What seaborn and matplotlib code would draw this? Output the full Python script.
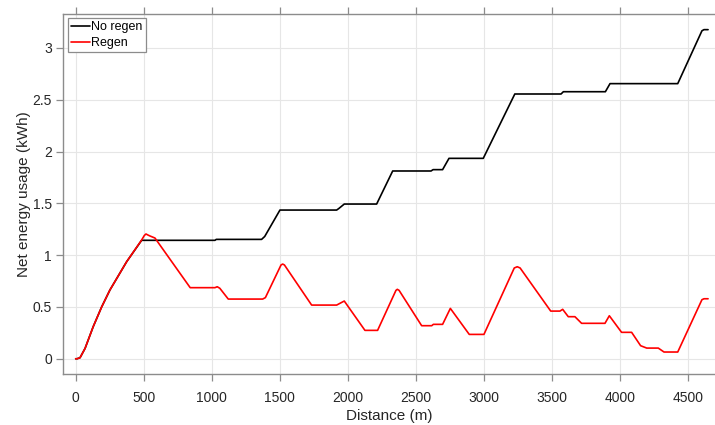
import numpy as np
import pandas as pd
import matplotlib
matplotlib.use("Agg")
import matplotlib.pyplot as plt
from matplotlib.lines import Line2D
import seaborn as sns

# ---- data ----
regen_x = [0, 10, 32, 69, 129, 191, 252, 375, 485, 505, 517, 530, 546, 583, 842, 1024, 1041,
           1060, 1122, 1375, 1395, 1510, 1522, 1535, 1735, 1919, 1975, 2127, 2220, 2355,
           2365, 2378, 2544, 2618, 2630, 2698, 2755, 2894, 3002, 3225, 3247, 3268, 3493,
           3561, 3581, 3622, 3671, 3720, 3892, 3924, 4014, 4088, 4154, 4199, 4284, 4326,
           4427, 4605, 4620, 4650]
regen_y = [0.0, 0.0, 0.01, 0.10, 0.31, 0.50, 0.664, 0.937, 1.146, 1.19, 1.204, 1.195, 1.185,
           1.165, 0.686, 0.686, 0.695, 0.68, 0.576, 0.576, 0.59, 0.905, 0.914, 0.905, 0.518,
           0.518, 0.557, 0.274, 0.274, 0.66, 0.67, 0.66, 0.319, 0.319, 0.332, 0.332, 0.486,
           0.235, 0.235, 0.876, 0.888, 0.876, 0.46, 0.46, 0.477, 0.406, 0.406, 0.342, 0.342,
           0.415, 0.255, 0.255, 0.126, 0.103, 0.103, 0.065, 0.065, 0.570, 0.579, 0.579]

noregen_x = [0, 10, 32, 69, 129, 191, 252, 375, 485, 1024, 1034, 1367, 1390, 1502, 1919,
             1935, 1975, 2213, 2331, 2613, 2628, 2698, 2745, 2997, 3229, 3569, 3586, 3895,
             3929, 4427, 4605, 4620, 4650]
noregen_y = [0.0, 0.0, 0.01, 0.10, 0.31, 0.50, 0.664, 0.937, 1.143, 1.143, 1.152, 1.152,
             1.18, 1.435, 1.435, 1.45, 1.493, 1.493, 1.812, 1.812, 1.825, 1.825, 1.934,
             1.934, 2.555, 2.555, 2.577, 2.577, 2.655, 2.655, 3.165, 3.176, 3.176]

series_names = ["No regen", "Regen"]
series_colors = ["black", "red"]
x_ticks = [0, 500, 1000, 1500, 2000, 2500, 3000, 3500, 4000, 4500]
y_ticks = [0, 0.5, 1, 1.5, 2, 2.5, 3]
y_tick_labels = ["0", "0.5", "1", "1.5", "2", "2.5", "3"]

df = pd.concat([
    pd.DataFrame({"Distance": noregen_x, "Energy": noregen_y, "Series": series_names[0]}),
    pd.DataFrame({"Distance": regen_x, "Energy": regen_y, "Series": series_names[1]}),
], ignore_index=True)

# ---- style ----
sns.set_theme(style="whitegrid")
plt.rcParams["font.family"] = ["Liberation Sans", "DejaVu Sans"]

fig = plt.figure(figsize=(7.15, 4.25), dpi=100)
W, H = 715, 425
left, top, bottom = 63.3, 14.0, 374.3
ax = fig.add_axes([left / W, 1 - bottom / H, 1.0 - left / W, (bottom - top) / H])

sns.lineplot(data=df, x="Distance", y="Energy", hue="Series",
             palette=dict(zip(series_names, series_colors)),
             estimator=None, sort=False, linewidth=1.2, ax=ax, legend=False)

ax.set_xlim(-91, 4701)
ax.set_ylim(-0.15, 3.327)
ax.set_xticks(x_ticks)
ax.set_xticklabels([str(t) for t in x_ticks])
ax.set_yticks(y_ticks)
ax.set_yticklabels(y_tick_labels)

txt = "#262626"
ax.set_xlabel("Distance (m)", fontsize=11, color=txt, labelpad=3)
ax.set_ylabel("Net energy usage (kWh)", fontsize=11, color=txt, labelpad=1)

ax.grid(True, color="#e6e6e6", linewidth=0.8)
ax.set_facecolor("white")
for side in ["left", "bottom", "top"]:
    ax.spines[side].set_visible(True)
    ax.spines[side].set_color("#8c8c8c")
    ax.spines[side].set_linewidth(1.0)
ax.spines["right"].set_visible(False)

ax.tick_params(axis="both", which="both", direction="out", length=4.7, width=0.9,
               color="#8c8c8c", labelsize=10, labelcolor=txt)
ax.tick_params(axis="x", top=True, labeltop=False, bottom=True, pad=7)
ax.tick_params(axis="y", left=True, right=False, pad=3.6)

handles = [Line2D([0], [0], color=c, lw=1.2) for c in series_colors]
leg = ax.legend(handles, series_names, loc="upper left",
                bbox_to_anchor=(68.3 / W, 1 - 18.3 / H), bbox_transform=fig.transFigure,
                borderaxespad=0, fontsize=9, frameon=True, fancybox=False,
                framealpha=1, edgecolor="#8c8c8c", handlelength=1.45,
                handletextpad=0.15, borderpad=0.25, labelspacing=0.3)
leg.get_frame().set_linewidth(0.9)
for t in leg.get_texts():
    t.set_color("black")

fig.savefig("out.png", dpi=100, facecolor="white")
